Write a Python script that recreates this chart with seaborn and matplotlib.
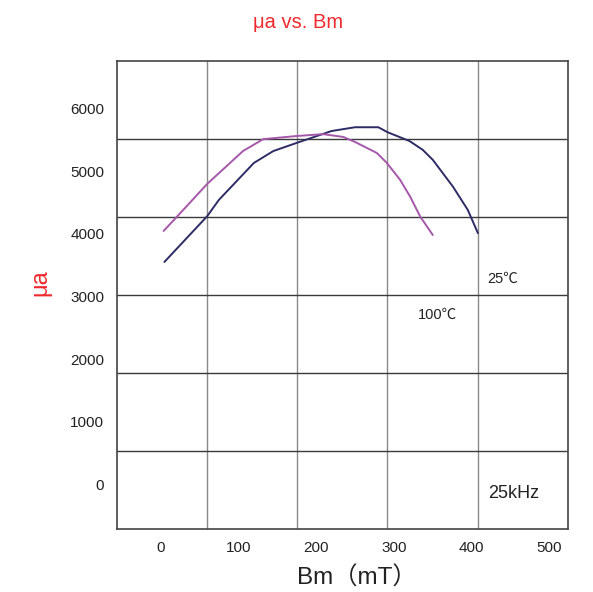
import numpy as np
import pandas as pd
import matplotlib
matplotlib.use("Agg")
import matplotlib.pyplot as plt
import seaborn as sns

# Permeability vs. flux density at 25 kHz
b_25c = [5, 60, 75, 120, 145, 175, 220, 250, 280, 292, 320, 337, 350, 376, 395, 408]
mu_25c = [3550, 4280, 4540, 5130, 5320, 5450, 5640, 5700, 5700, 5620, 5480, 5340, 5180, 4750, 4380, 4010]

b_100c = [4, 21, 60, 106, 132, 175, 209, 235, 250, 278, 291, 308, 321, 334, 350]
mu_100c = [4045, 4270, 4795, 5320, 5510, 5560, 5590, 5545, 5465, 5290, 5130, 4860, 4590, 4270, 3980]

x_ticks = [0, 100, 200, 300, 400, 500]
y_ticks = [0, 1000, 2000, 3000, 4000, 5000, 6000]

sns.set_style("white")
plt.rcParams['font.family'] = ['Liberation Sans', 'Noto Sans CJK SC', 'DejaVu Sans']

df = pd.concat([
    pd.DataFrame({"Bm": b_25c, "mu": mu_25c, "T": "25℃"}),
    pd.DataFrame({"Bm": b_100c, "mu": mu_100c, "T": "100℃"}),
])

fig = plt.figure(figsize=(5.93, 5.92), dpi=100)
ax = fig.add_axes([116.7 / 593, 1 - 529 / 592, 451 / 593, 468.3 / 592])

sns.lineplot(data=df, x="Bm", y="mu", hue="T", sort=False, estimator=None,
             palette={"25℃": "#2d2c66", "100℃": "#a557aa"},
             linewidth=1.4, legend=False, ax=ax)

x0, x1 = -56.3, 523.4
y0, y1 = -712, 6762
ax.set_xlim(x0, x1)
ax.set_ylim(y0, y1)

ax.set_xticks(x_ticks)
ax.set_yticks(y_ticks)
ax.set_xticklabels([str(v) for v in x_ticks])
ax.set_yticklabels([str(v) for v in y_ticks])
ax.tick_params(axis='both', which='major', length=0, labelsize=11, colors='#222222', pad=9)

# chart grid: equal divisions of the plotting frame
ax.set_xticks(np.linspace(x0, x1, 6)[1:-1], minor=True)
ax.set_yticks(np.linspace(y0, y1, 7)[1:-1], minor=True)
ax.tick_params(which='minor', length=0)
ax.grid(False)
ax.grid(True, which='minor', axis='x', color='#8a8a8a', linewidth=1.0)
ax.grid(True, which='minor', axis='y', color='#3a3a3a', linewidth=1.0)

for s in ax.spines.values():
    s.set_color('#444444')
    s.set_linewidth(1.2)

ax.set_xlabel("")
ax.set_ylabel("")

fig.text(298 / 593, 1 - 23 / 592, "μa vs. Bm", color='#ee2a2e', fontsize=14.5,
         ha='center', va='center')
fig.text(40 / 593, 1 - 283 / 592, "μa", color='#ee2a2e', fontsize=17,
         ha='center', va='center', rotation=90)
fig.text(357 / 593, 1 - 578 / 592, "Bm（mT）", color='#222222', fontsize=17.5,
         ha='center', va='center')

# annotations placed in axes-fraction coordinates of the frame
def frame_xy(px, py):
    return ((px - 116.7) / 451, (529 - py) / 468.3)

ax.text(*frame_xy(503, 279), "25℃", fontsize=10.5, color='#222222',
        ha='center', va='center', transform=ax.transAxes)
ax.text(*frame_xy(437, 315), "100℃", fontsize=10.5, color='#222222',
        ha='center', va='center', transform=ax.transAxes)
ax.text(*frame_xy(514, 493), "25kHz", fontsize=13, color='#222222',
        ha='center', va='center', transform=ax.transAxes)

fig.savefig("out.png", dpi=100)
